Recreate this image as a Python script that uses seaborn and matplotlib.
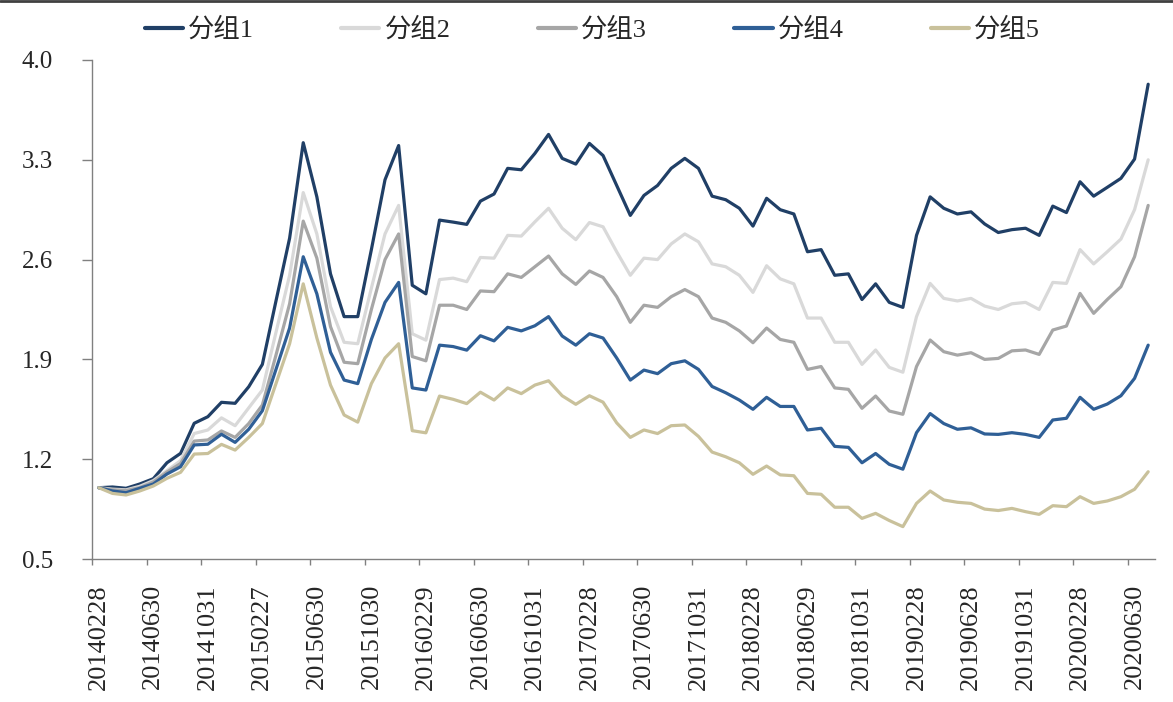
import numpy as np
import pandas as pd
import seaborn as sns
import matplotlib.pyplot as plt
from matplotlib.lines import Line2D

# --- data (monthly, 78 points, 20140228 ... 20200731) ---
tick_labels = ['20140228', '20140630', '20141031', '20150227', '20150630',
               '20151030', '20160229', '20160630', '20161031', '20170228',
               '20170630', '20171031', '20180228', '20180629', '20181031',
               '20190228', '20190628', '20191031', '20200228', '20200630']

group1 = [1.00, 1.005, 0.996, 1.026, 1.063, 1.175, 1.241, 1.452, 1.498, 1.599,
          1.592, 1.708, 1.865, 2.31, 2.75, 3.42, 3.04, 2.50, 2.20, 2.20,
          2.67, 3.16, 3.40, 2.42, 2.36, 2.877, 2.863, 2.847, 3.01, 3.06,
          3.24, 3.23, 3.345, 3.478, 3.31, 3.27, 3.415, 3.33, 3.12, 2.91,
          3.05, 3.12, 3.24, 3.31, 3.24, 3.045, 3.02, 2.96, 2.835, 3.03,
          2.95, 2.92, 2.655, 2.67, 2.49, 2.50, 2.32, 2.43, 2.30, 2.265,
          2.77, 3.04, 2.96, 2.92, 2.935, 2.85, 2.79, 2.81, 2.82, 2.77,
          2.975, 2.93, 3.146, 3.045, 3.107, 3.17, 3.305, 3.83]

group2 = [1.00, 0.99, 0.985, 1.01, 1.05, 1.12, 1.19, 1.38, 1.405, 1.49,
          1.435, 1.56, 1.685, 2.09, 2.49, 3.07, 2.78, 2.27, 2.02, 2.01,
          2.40, 2.78, 2.98, 2.08, 2.035, 2.46, 2.47, 2.445, 2.615, 2.61,
          2.77, 2.765, 2.865, 2.96, 2.82, 2.74, 2.86, 2.83, 2.655, 2.49,
          2.61, 2.60, 2.71, 2.78, 2.725, 2.57, 2.55, 2.49, 2.37, 2.557,
          2.465, 2.43, 2.19, 2.19, 2.02, 2.02, 1.865, 1.966, 1.844, 1.81,
          2.20, 2.433, 2.328, 2.31, 2.328, 2.274, 2.25, 2.29, 2.30, 2.25,
          2.44, 2.433, 2.67, 2.57, 2.655, 2.744, 2.95, 3.30]

group3 = [1.00, 0.985, 0.98, 1.00, 1.04, 1.11, 1.17, 1.327, 1.335, 1.398,
          1.353, 1.45, 1.58, 1.93, 2.29, 2.87, 2.61, 2.13, 1.88, 1.87,
          2.25, 2.60, 2.78, 1.92, 1.89, 2.28, 2.28, 2.25, 2.38, 2.375,
          2.50, 2.475, 2.55, 2.625, 2.50, 2.426, 2.52, 2.475, 2.34, 2.16,
          2.28, 2.265, 2.34, 2.39, 2.34, 2.19, 2.16, 2.10, 2.017, 2.12,
          2.04, 2.02, 1.83, 1.85, 1.70, 1.69, 1.557, 1.643, 1.538, 1.515,
          1.85, 2.036, 1.954, 1.93, 1.947, 1.90, 1.907, 1.96, 1.966, 1.935,
          2.106, 2.134, 2.363, 2.223, 2.32, 2.41, 2.62, 2.98]

group4 = [1.00, 0.977, 0.965, 0.996, 1.026, 1.096, 1.147, 1.30, 1.305, 1.375,
          1.318, 1.41, 1.54, 1.83, 2.12, 2.62, 2.36, 1.95, 1.755, 1.73,
          2.04, 2.30, 2.44, 1.70, 1.685, 2.00, 1.99, 1.965, 2.066, 2.03,
          2.125, 2.10, 2.136, 2.20, 2.064, 2.00, 2.08, 2.05, 1.91, 1.755,
          1.825, 1.80, 1.87, 1.89, 1.83, 1.71, 1.666, 1.615, 1.55, 1.634,
          1.57, 1.57, 1.405, 1.417, 1.29, 1.283, 1.175, 1.24, 1.164, 1.13,
          1.386, 1.52, 1.45, 1.41, 1.42, 1.377, 1.374, 1.386, 1.374, 1.353,
          1.475, 1.487, 1.634, 1.55, 1.587, 1.645, 1.767, 2.00]

group5 = [1.00, 0.96, 0.949, 0.977, 1.012, 1.066, 1.108, 1.236, 1.24, 1.304,
          1.264, 1.353, 1.45, 1.73, 2.01, 2.43, 2.05, 1.72, 1.51, 1.46,
          1.73, 1.91, 2.01, 1.40, 1.385, 1.643, 1.62, 1.59, 1.67, 1.615,
          1.70, 1.66, 1.72, 1.75, 1.645, 1.585, 1.645, 1.60, 1.455, 1.353,
          1.405, 1.38, 1.435, 1.44, 1.36, 1.25, 1.217, 1.175, 1.094, 1.152,
          1.09, 1.084, 0.96, 0.954, 0.863, 0.863, 0.785, 0.82, 0.77, 0.727,
          0.89, 0.977, 0.914, 0.898, 0.89, 0.85, 0.84, 0.855, 0.832, 0.813,
          0.874, 0.867, 0.937, 0.89, 0.907, 0.937, 0.989, 1.112]

names = ['分组1', '分组2', '分组3', '分组4', '分组5']
colors = ['#203F66', '#D9D9D9', '#A6A6A6', '#2F5F96', '#C9C19B']
y_ticks = [0.5, 1.2, 1.9, 2.6, 3.3, 4.0]

# long table for seaborn
frames = []
for name, vals in zip(names, [group1, group2, group3, group4, group5]):
    frames.append(pd.DataFrame({'idx': np.arange(len(vals)), 'value': vals, 'group': name}))
df = pd.concat(frames, ignore_index=True)
n = len(group1)

sns.set_theme(style='white')
plt.rcParams['font.family'] = ['Liberation Serif', 'Noto Sans CJK SC']

fig = plt.figure(figsize=(11.73, 7.02), dpi=100)
ax = fig.add_axes([92 / 1173, 1 - 559 / 702, (1155 - 92) / 1173, (559 - 60) / 702])

sns.lineplot(data=df, x='idx', y='value', hue='group', hue_order=names,
             palette=colors, linewidth=2.3, sort=False, ax=ax, legend=False)

ax.set_xlim(-0.5, n - 0.5)
ax.set_ylim(0.5, 4.0)
ax.set_xlabel('')
ax.set_ylabel('')

# labels sit in the middle of a category, tick marks on the boundaries
pos = np.arange(0, n - 1, 4)
ax.set_xticks(pos)
ax.set_xticklabels(tick_labels, rotation=90, fontsize=19)
ax.set_xticks(pos - 0.5, minor=True)
ax.tick_params(axis='x', which='major', length=0, pad=18)
ax.tick_params(axis='x', which='minor', length=4.5, width=1, color='#808080', direction='out', bottom=True)

ax.set_yticks(y_ticks)
ax.set_yticklabels([f'{v:.1f}' for v in y_ticks], fontsize=18)
ax.tick_params(axis='y', length=7, width=1, color='#808080', direction='out', left=True, pad=21)

for side in ['top', 'right']:
    ax.spines[side].set_visible(False)
for side in ['left', 'bottom']:
    ax.spines[side].set_color('#808080')
    ax.spines[side].set_linewidth(1)

handles = [Line2D([0], [0], color=c, lw=3) for c in colors]
fig.legend(handles, names, loc='center', bbox_to_anchor=(0.505, 0.958), ncol=5,
           frameon=False, handlelength=1.45, handletextpad=0.2,
           columnspacing=3.3, prop={'family': ['Liberation Serif', 'Noto Sans CJK SC'], 'size': 19})

# thin dark rule along the top edge of the picture
fig.add_artist(Line2D([0, 1], [0.998, 0.998], transform=fig.transFigure, color='#404040', lw=2))

fig.savefig('out.png', dpi=100)
